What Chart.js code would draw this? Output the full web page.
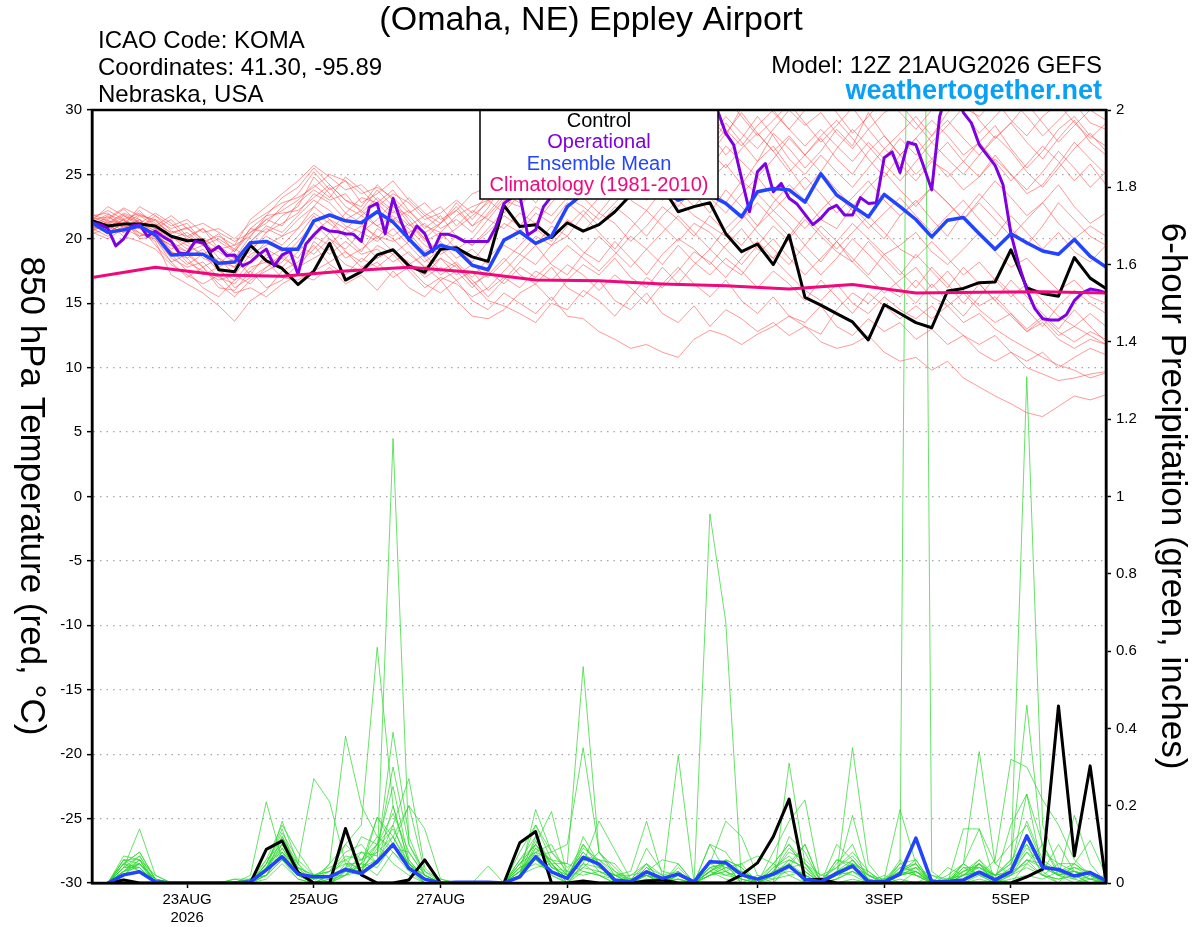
<!DOCTYPE html>
<html>
<head>
<meta charset="utf-8">
<title>KOMA GEFS 850 hPa temperature and 6-hour precipitation</title>
<script src="https://cdn.jsdelivr.net/npm/chart.js@4.4.1/dist/chart.umd.min.js"></script>
<style>
  html, body { margin: 0; padding: 0; background: #fff; }
  #wrap { width: 1200px; height: 927px; }
</style>
</head>
<body>
<div id="wrap"><canvas id="meteogram" width="1200" height="927"></canvas></div>
<script>
// ---- text ----
const stationTitle = "(Omaha, NE) Eppley Airport";
const stationInfo = ["ICAO Code: KOMA", "Coordinates: 41.30, -95.89", "Nebraska, USA"];
const modelRun = "Model: 12Z 21AUG2026 GEFS";
const siteName = "weathertogether.net";
const legendLines = ["Control", "Operational", "Ensemble Mean", "Climatology (1981-2010)"];

// ---- x axis (hours after 12Z 21AUG) ----
const dateTickHours = [36, 84, 132, 180, 252, 300, 348];
const dateTickLabels = [["23AUG", "2026"], "25AUG", "27AUG", "29AUG", "1SEP", "3SEP", "5SEP"];

// ---- 850 hPa temperature (C), 6-hourly from hour 0 ----
const controlTemp = [
  21.4, 21.0, 21.15, 21.15, 21.0, 20.2, 19.85, 19.9, 17.6, 17.45, 19.5, 18.3, 17.7,
  16.45, 17.5, 19.65, 16.8, 17.45, 18.75, 19.15, 17.9, 17.4, 19.2, 19.3, 18.6, 18.25,
  22.6, 20.95, 21.1, 20.1, 21.25, 20.6, 21.1, 22.1, 23.4, 24.5, 24.0, 22.1, 22.5,
  22.8, 20.4, 19.0, 19.6, 18.0, 20.3, 15.45, 14.85, 14.2, 13.55, 12.15, 14.9, 14.2,
  13.5, 13.1, 15.95, 16.15, 16.6, 16.65, 19.15, 16.2, 15.75, 15.55, 18.55, 16.95, 16.15
];
const meanTemp = [
  21.25, 20.5, 20.7, 21.0, 20.3, 18.75, 18.8, 18.8, 18.1, 18.2, 19.7, 19.8, 19.2,
  19.2, 21.4, 21.85, 21.4, 21.25, 22.1, 21.3, 20.0, 18.75, 19.5, 19.15, 17.95, 17.6,
  19.9, 20.55, 19.65, 20.2, 22.5, 23.5, 24.0, 24.5, 25.0, 24.5, 23.8, 23.0, 23.4,
  23.4, 22.75, 21.7, 23.65, 23.9, 23.8, 22.85, 25.05, 23.4, 22.55, 21.7, 23.45, 22.5,
  21.5, 20.15, 21.45, 21.65, 20.4, 19.2, 20.4, 19.7, 19.05, 18.8, 19.95, 18.65, 17.8
];
// operational run, 3-hourly from hour 0
const operationalTemp = [
  21.25, 21.1, 20.8, 19.45, 20.0, 21.0, 21.1, 20.2, 20.6, 20.15, 19.8, 18.9, 18.85, 19.8, 19.7, 19.0,
  19.4, 18.7, 18.75, 17.9, 18.2, 18.75, 19.2, 17.9, 18.75, 19.05, 17.25, 19.6, 20.3, 20.9, 20.6, 20.55,
  20.4, 20.35, 19.8, 22.45, 22.75, 20.4, 23.15, 21.35, 19.9, 21.0, 20.4, 19.0, 20.35, 20.35, 20.15, 19.8,
  19.8, 19.8, 19.8, 20.95, 22.75, 23.2, 23.4, 20.3, 20.7, 22.5, 23.3, 24.2, 25.0, 25.6, 26.2, 26.8,
  27.2, 27.5, 28.0, 28.4, 28.8, 29.2, 29.6, 30.2, 30.8, 31.2, 31.5, 31.8, 32.2, 31.8, 31.0, 29.9,
  28.2, 27.3, 24.7, 22.1, 25.2, 25.85, 23.65, 24.3, 23.15, 22.7, 21.9, 21.1, 21.6, 22.3, 22.6, 21.85,
  21.85, 23.2, 22.75, 22.8, 26.3, 26.75, 25.15, 27.5, 27.3, 25.6, 23.8, 29.5, 31.5, 31.5, 29.8, 29.0,
  27.3, 26.5, 25.7, 24.2, 20.4, 18.0, 16.05, 14.6, 13.8, 13.7, 13.7, 14.1, 15.2, 15.8, 16.1, 16.0,
  15.8
];
// climatology, daily from hour 0
const climoTemp = [17.0, 17.8, 17.2, 17.1, 17.5, 17.8, 17.4, 16.8, 16.75, 16.5, 16.35, 16.1, 16.45, 15.8, 15.85, 15.9, 15.8];

// ensemble members, 6-hourly from hour 0
const memberTemps = [
  [21.6, 22.2, 21.5, 22.0, 21.2, 20.5, 20.8, 20.0, 19.2, 18.5, 20.2, 21.8, 23.2,
   24.0, 25.5, 24.2, 23.0, 22.5, 24.2, 23.0, 21.5, 20.0, 21.2, 22.5, 21.0, 22.4,
   24.5, 25.8, 27.0, 26.2, 28.0, 29.2, 28.5, 30.5, 29.0, 27.8, 29.5, 31.0, 28.8,
   27.2, 29.0, 27.5, 26.0, 28.2, 27.0, 25.5, 26.8, 28.5, 27.2, 29.8, 28.0, 26.5,
   27.8, 29.2, 28.0, 26.5, 27.5, 28.8, 27.0, 25.5, 26.8, 28.5, 29.5, 28.0, 27.2],
  [21.0, 21.5, 22.3, 21.2, 20.8, 21.5, 20.2, 19.5, 20.0, 19.2, 20.8, 20.5, 21.8,
   22.5, 24.8, 23.5, 22.0, 23.2, 22.8, 21.5, 22.2, 21.0, 20.5, 21.8, 22.5, 23.0,
   22.0, 23.5, 24.8, 23.5, 25.2, 26.5, 25.8, 27.2, 28.5, 27.0, 26.2, 28.0, 29.5,
   28.2, 26.5, 27.8, 29.5, 28.0, 26.2, 25.0, 26.5, 25.2, 24.0, 25.5, 27.0, 25.8,
   24.5, 26.0, 25.2, 23.8, 24.8, 26.5, 25.0, 23.5, 24.2, 25.8, 27.5, 26.2, 25.0],
  [20.8, 20.2, 21.0, 20.5, 19.8, 17.2, 16.5, 15.8, 14.8, 13.6, 15.2, 16.0, 17.5,
   18.2, 19.5, 18.0, 17.2, 18.5, 17.8, 18.8, 17.5, 16.2, 17.0, 16.5, 15.5, 16.2,
   17.5, 18.8, 18.0, 19.5, 20.2, 19.0, 18.2, 19.8, 18.5, 17.2, 18.8, 20.0, 19.2,
   18.0, 19.5, 20.8, 19.2, 18.5, 20.0, 21.5, 20.2, 19.0, 18.2, 19.8, 18.5, 17.2,
   18.8, 17.5, 16.2, 17.8, 16.5, 15.2, 16.8, 15.5, 14.2, 13.0, 14.5, 13.2, 12.0],
  [21.2, 20.5, 21.2, 20.8, 20.2, 19.5, 18.2, 17.5, 16.8, 17.2, 16.5, 17.8, 18.5,
   17.8, 18.5, 19.2, 18.0, 17.5, 18.2, 17.0, 17.8, 16.5, 15.8, 16.8, 15.2, 14.5,
   15.8, 15.0, 14.2, 15.5, 14.0, 13.8, 12.8, 12.2, 11.5, 11.8, 11.2, 10.8, 12.2,
   12.9, 12.5, 11.8, 12.6, 13.2, 14.0, 13.2, 12.6, 14.5, 15.8, 15.0, 16.2, 15.5,
   16.8, 15.5, 14.8, 13.5, 14.2, 13.0, 12.2, 11.5, 10.8, 10.2, 9.8, 9.2, 9.6],
  [20.5, 20.0, 20.8, 21.5, 20.0, 18.5, 17.8, 18.2, 17.0, 16.5, 17.8, 18.2, 17.0,
   16.8, 17.5, 18.2, 19.0, 17.8, 18.5, 19.2, 18.0, 17.2, 18.5, 17.8, 16.5, 17.2,
   18.5, 17.2, 16.5, 17.8, 16.2, 15.5, 16.8, 15.2, 14.5, 15.8, 14.2, 13.5, 14.8,
   13.2, 14.5, 13.8, 12.8, 13.5, 12.5, 13.2, 12.0, 11.5, 11.8, 12.5, 11.2, 10.5,
   10.8, 9.8, 10.5, 9.2, 8.5, 7.8, 7.2, 6.5, 6.2, 7.0, 7.8, 7.5, 7.9],
  [21.8, 22.0, 21.0, 22.5, 21.8, 21.0, 21.5, 20.5, 20.8, 20.0, 21.2, 22.0, 22.8,
   23.2, 24.0, 25.0, 24.5, 23.5, 24.0, 23.2, 22.0, 22.8, 21.5, 22.2, 23.5, 24.0,
   25.0, 24.2, 25.5, 27.0, 26.5, 28.0, 29.5, 28.8, 30.2, 29.0, 30.5, 29.2, 28.0,
   29.8, 31.0, 29.5, 28.0, 29.2, 30.5, 29.0, 27.5, 28.8, 30.2, 28.5, 27.0, 28.2,
   29.5, 28.0, 29.8, 31.0, 29.2, 27.8, 29.0, 30.5, 29.0, 27.5, 28.8, 30.0, 29.2],
  [21.3, 21.0, 20.5, 21.8, 21.0, 20.2, 19.5, 18.8, 19.5, 18.5, 19.8, 21.0, 20.5,
   21.8, 23.0, 22.2, 21.0, 20.5, 21.5, 22.8, 21.2, 19.8, 20.5, 19.2, 20.0, 21.5,
   20.8, 22.0, 21.2, 22.8, 24.0, 23.2, 22.0, 23.5, 25.0, 24.2, 23.0, 24.5, 23.5,
   22.0, 23.8, 22.5, 21.0, 22.8, 24.2, 23.0, 21.5, 20.8, 22.5, 21.2, 20.0, 21.8,
   23.0, 21.5, 20.2, 22.0, 23.5, 22.2, 20.8, 19.5, 21.0, 22.8, 21.5, 20.2, 19.5],
  [20.9, 21.8, 20.8, 20.2, 20.5, 18.8, 17.5, 16.2, 15.5, 16.8, 17.5, 16.2, 16.8,
   18.0, 19.2, 20.5, 19.0, 18.2, 19.5, 18.8, 19.8, 18.5, 17.2, 18.0, 16.8, 15.5,
   16.8, 18.2, 19.5, 18.0, 17.2, 18.8, 20.2, 19.0, 17.8, 19.2, 20.5, 21.8, 20.5,
   19.2, 20.8, 22.0, 20.5, 19.2, 18.0, 19.5, 21.0, 19.8, 18.5, 17.2, 18.8, 17.5,
   16.2, 17.8, 16.5, 15.0, 16.5, 15.2, 14.0, 12.8, 13.5, 12.2, 11.5, 12.2, 11.8],
  [21.5, 20.8, 21.8, 21.2, 22.0, 21.2, 20.0, 20.8, 19.8, 19.0, 20.5, 21.2, 22.5,
   23.5, 25.2, 23.8, 24.5, 22.8, 23.5, 24.5, 23.0, 21.8, 22.5, 21.0, 22.2, 21.5,
   23.0, 22.5, 24.0, 25.5, 24.2, 25.8, 27.2, 26.0, 27.5, 28.8, 27.2, 26.0, 27.8,
   26.5, 28.2, 29.8, 28.2, 26.8, 28.0, 26.5, 25.2, 27.0, 28.5, 27.2, 25.8, 24.5,
   26.0, 27.5, 26.2, 25.0, 26.5, 28.0, 26.8, 25.2, 24.0, 25.5, 27.0, 28.2, 26.8],
  [21.0, 20.5, 21.2, 20.8, 20.5, 19.2, 19.8, 18.5, 18.0, 19.2, 18.5, 19.8, 19.0,
   20.2, 21.8, 20.5, 22.0, 21.2, 20.0, 21.5, 20.8, 19.5, 18.8, 19.5, 18.2, 19.8,
   21.2, 20.5, 22.0, 21.2, 22.8, 21.8, 23.2, 24.5, 23.0, 22.2, 23.8, 22.5, 24.0,
   23.2, 22.0, 23.5, 24.8, 23.2, 22.0, 20.8, 22.2, 23.5, 22.2, 20.8, 22.0, 23.2,
   21.8, 20.5, 21.8, 23.0, 21.5, 20.2, 21.8, 20.5, 19.2, 20.5, 19.0, 18.2, 19.5],
  [20.6, 21.2, 20.2, 19.8, 19.2, 18.0, 17.2, 16.5, 17.2, 15.8, 16.2, 15.5, 16.5,
   17.2, 16.8, 17.8, 16.5, 17.2, 16.0, 17.5, 16.2, 15.5, 16.8, 15.2, 14.0, 13.8,
   14.5, 15.8, 16.5, 15.2, 16.8, 18.0, 17.2, 18.5, 17.0, 16.2, 17.8, 16.5, 18.0,
   19.2, 18.0, 17.2, 18.8, 20.0, 18.5, 17.2, 18.5, 19.8, 18.2, 17.0, 15.8, 16.8,
   17.8, 16.2, 17.5, 16.0, 14.8, 15.5, 14.2, 13.0, 14.0, 12.8, 12.0, 12.8, 12.2],
  [21.4, 22.5, 21.8, 21.0, 21.5, 20.8, 21.2, 19.8, 20.2, 19.5, 21.5, 22.5, 23.5,
   24.5, 25.7, 24.8, 23.8, 24.2, 23.0, 22.0, 23.2, 22.0, 21.2, 22.8, 21.5, 23.0,
   23.8, 25.5, 26.8, 25.2, 27.0, 28.2, 29.8, 31.0, 29.5, 30.8, 29.2, 30.0, 31.2,
   29.5, 28.0, 30.2, 31.5, 29.8, 28.5, 30.0, 31.2, 29.8, 28.2, 29.5, 31.0, 29.8,
   28.5, 30.0, 31.2, 29.8, 28.2, 29.5, 30.8, 29.5, 28.0, 29.2, 30.5, 29.0, 28.5],
  [21.1, 20.6, 21.5, 20.2, 20.8, 19.8, 18.5, 19.2, 17.8, 18.5, 17.2, 18.8, 17.8,
   19.0, 20.2, 19.5, 20.8, 19.8, 18.5, 19.2, 18.0, 18.8, 17.5, 18.2, 17.0, 18.5,
   19.8, 20.8, 19.5, 21.0, 20.2, 21.8, 20.5, 19.2, 20.8, 22.2, 21.0, 19.8, 21.2,
   20.5, 19.2, 18.0, 19.5, 21.0, 19.8, 18.5, 17.2, 18.5, 20.0, 18.8, 17.5, 16.2,
   15.0, 16.5, 15.2, 14.0, 15.5, 17.0, 15.8, 14.5, 13.2, 14.8, 16.0, 15.0, 14.2],
  [21.7, 21.2, 22.0, 21.5, 20.8, 20.0, 20.5, 19.5, 19.0, 18.2, 19.0, 20.5, 21.2,
   22.0, 23.5, 22.8, 21.5, 22.2, 21.0, 21.8, 20.5, 21.2, 20.0, 20.8, 21.8, 22.8,
   24.2, 23.5, 25.0, 26.2, 25.0, 26.8, 25.5, 27.0, 26.2, 25.0, 26.8, 28.2, 27.0,
   25.5, 27.2, 26.0, 24.8, 26.2, 27.8, 26.5, 28.0, 29.2, 27.8, 26.2, 24.8, 26.5,
   27.8, 26.2, 24.8, 26.0, 27.5, 26.0, 24.5, 25.8, 27.2, 26.0, 24.5, 25.8, 24.2],
  [20.7, 21.0, 20.5, 21.0, 19.5, 18.2, 18.8, 17.8, 16.5, 15.5, 16.8, 17.5, 18.2,
   19.5, 18.8, 20.0, 18.5, 19.2, 20.2, 19.0, 18.2, 17.0, 17.8, 16.8, 17.5, 16.0,
   17.0, 16.2, 17.5, 16.8, 18.0, 17.2, 16.0, 17.2, 16.2, 15.0, 16.5, 17.8, 16.5,
   15.5, 16.8, 15.2, 14.2, 15.5, 14.0, 13.5, 14.8, 13.2, 12.5, 13.8, 12.8, 13.5,
   12.2, 13.0, 11.8, 12.5, 11.2, 10.5, 11.2, 10.0, 9.5, 9.0, 9.2, 9.5, 9.7],
  [21.2, 21.6, 22.4, 21.8, 21.5, 20.2, 19.2, 20.0, 18.5, 17.8, 19.8, 20.8, 20.2,
   21.5, 22.5, 24.0, 22.5, 21.8, 22.8, 23.8, 22.2, 20.8, 21.8, 20.2, 19.5, 20.8,
   22.2, 24.0, 22.8, 24.2, 23.0, 24.8, 26.0, 24.8, 26.2, 27.5, 26.0, 27.2, 26.0,
   24.5, 25.8, 24.2, 26.0, 27.2, 25.5, 23.8, 25.2, 23.8, 22.5, 24.0, 25.2, 23.8,
   22.5, 24.0, 22.8, 21.5, 23.0, 24.5, 23.2, 21.8, 22.8, 24.2, 22.5, 21.2, 22.0],
  [20.4, 20.8, 21.5, 20.0, 20.2, 19.0, 18.0, 18.8, 17.5, 16.8, 18.2, 19.2, 18.5,
   19.8, 21.2, 20.0, 19.2, 20.5, 19.8, 20.8, 19.5, 18.2, 19.2, 18.0, 16.5, 15.2,
   14.8, 14.2, 13.5, 15.0, 14.5, 16.0, 15.2, 14.0, 15.5, 17.0, 16.2, 17.5, 19.0,
   18.2, 17.0, 18.5, 19.8, 18.5, 17.2, 16.0, 15.2, 16.5, 15.0, 14.2, 15.5, 14.5,
   13.8, 14.8, 13.5, 12.5, 11.8, 12.5, 11.2, 10.5, 11.2, 10.0, 10.8, 11.5, 11.0],
  [21.9, 21.4, 21.2, 22.2, 21.0, 21.8, 20.8, 21.2, 20.5, 19.8, 20.5, 21.5, 22.2,
   23.0, 24.2, 23.2, 24.8, 23.8, 22.5, 23.5, 22.8, 21.5, 22.0, 23.0, 22.0, 23.5,
   24.8, 26.0, 25.2, 26.8, 28.0, 27.2, 28.5, 27.5, 29.0, 30.2, 28.8, 27.5, 29.0,
   27.8, 29.5, 28.2, 27.0, 28.5, 30.0, 28.8, 29.8, 28.2, 27.0, 28.5, 29.8, 30.5,
   29.0, 27.5, 28.8, 30.2, 29.5, 30.8, 29.2, 28.0, 29.5, 30.5, 29.0, 27.8, 29.0],
  [20.8, 21.3, 20.6, 21.5, 20.2, 19.5, 19.0, 17.8, 18.5, 17.2, 18.8, 19.5, 20.2,
   20.8, 22.0, 21.2, 20.2, 21.0, 20.2, 19.8, 20.5, 19.0, 19.8, 18.5, 19.2, 18.0,
   19.5, 18.8, 20.2, 19.5, 21.0, 22.2, 21.0, 22.5, 21.5, 20.2, 21.8, 23.0, 21.8,
   21.0, 20.2, 21.5, 22.8, 21.5, 20.2, 21.8, 20.5, 19.2, 20.5, 21.8, 20.5, 19.2,
   18.5, 19.8, 18.5, 17.2, 18.2, 16.8, 15.5, 16.5, 15.2, 14.0, 13.2, 12.5, 11.8],
  [21.3, 21.9, 21.4, 20.9, 21.8, 20.6, 20.2, 20.8, 19.2, 19.5, 20.2, 21.5, 21.0,
   22.8, 23.8, 23.0, 23.5, 22.0, 23.2, 22.2, 21.0, 21.8, 20.8, 21.5, 20.5, 22.0,
   23.5, 22.8, 24.2, 23.2, 24.8, 25.8, 24.5, 26.0, 27.2, 26.0, 27.5, 26.5, 25.2,
   26.8, 25.5, 27.0, 28.2, 26.8, 25.2, 26.5, 27.8, 26.2, 25.0, 26.8, 28.0, 26.5,
   25.0, 26.2, 27.5, 26.0, 24.8, 26.2, 25.0, 23.8, 25.2, 26.8, 25.5, 24.0, 25.2],
  [21.0, 20.6, 21.6, 20.4, 20.0, 18.2, 17.0, 17.8, 16.2, 16.0, 17.5, 18.5, 19.2,
   18.5, 20.5, 21.5, 20.2, 19.0, 20.8, 20.0, 18.8, 17.8, 18.5, 17.2, 18.0, 17.0,
   18.2, 19.5, 20.8, 19.8, 21.5, 20.5, 22.0, 21.2, 19.8, 21.0, 22.5, 21.5, 20.2,
   21.8, 20.5, 19.5, 21.0, 22.2, 21.0, 19.5, 18.2, 19.8, 21.2, 20.0, 18.8, 19.5,
   20.5, 19.0, 18.0, 19.2, 20.5, 19.0, 17.8, 18.5, 17.2, 16.0, 16.8, 15.5, 15.0],
  [21.5, 21.7, 21.1, 21.9, 21.4, 20.4, 20.9, 19.6, 20.4, 19.0, 20.8, 21.8, 22.0,
   22.2, 23.2, 24.2, 23.0, 22.2, 23.8, 22.5, 21.8, 20.5, 21.2, 22.2, 21.0, 21.8,
   23.2, 24.8, 23.8, 25.0, 26.2, 25.2, 26.5, 28.0, 27.0, 28.5, 27.8, 29.2, 28.2,
   27.0, 28.5, 27.2, 28.8, 30.0, 28.5, 27.2, 28.5, 27.2, 26.0, 27.5, 26.2, 27.8,
   26.5, 28.0, 29.2, 27.8, 26.5, 27.8, 29.0, 27.5, 26.2, 27.8, 29.2, 27.5, 26.5],
  [21.2, 21.1, 21.9, 21.3, 20.6, 19.8, 19.0, 19.5, 18.2, 17.8, 19.2, 20.2, 19.5,
   20.8, 22.5, 21.5, 20.8, 21.8, 21.0, 20.2, 21.2, 20.0, 19.0, 20.2, 19.5, 20.5,
   21.8, 21.0, 22.5, 21.8, 23.2, 22.5, 21.5, 22.8, 24.0, 23.0, 24.5, 23.8, 22.5,
   24.0, 22.8, 24.5, 23.5, 22.2, 23.5, 24.8, 23.5, 22.0, 23.2, 24.5, 23.0, 21.8,
   22.8, 24.0, 22.8, 21.5, 22.8, 21.5, 20.2, 21.5, 22.8, 21.2, 20.0, 21.0, 20.2],
  [20.7, 21.4, 20.9, 21.2, 20.6, 19.0, 18.5, 17.2, 17.8, 16.2, 17.0, 17.8, 18.8,
   17.5, 19.8, 18.8, 19.8, 18.8, 19.2, 18.2, 19.0, 17.8, 16.8, 17.5, 16.2, 17.5,
   16.5, 17.8, 17.0, 18.2, 19.5, 18.5, 17.5, 18.8, 20.2, 19.2, 18.0, 19.5, 18.2,
   17.2, 18.5, 17.5, 16.2, 17.5, 16.5, 15.2, 16.8, 15.5, 14.2, 15.8, 14.8, 13.8,
   14.8, 13.8, 14.8, 15.8, 14.5, 13.5, 14.2, 12.8, 13.8, 12.5, 13.2, 14.2, 13.2]
];

// ---- 6-hour precipitation (inches), ending at hour 6, 12, ... 384 ----
const controlPrecip = [
  0, 0.008, 0, 0, 0, 0, 0, 0, 0, 0, 0.087, 0.109, 0.028, 0, 0, 0.141,
  0.021, 0, 0, 0.008, 0.06, 0, 0, 0, 0, 0, 0.104, 0.133, 0, 0, 0.005, 0,
  0, 0, 0.005, 0.008, 0, 0, 0, 0, 0.021, 0.052, 0.12, 0.217, 0.008, 0.01, 0, 0,
  0, 0, 0, 0, 0, 0, 0, 0, 0, 0, 0.016, 0.036, 0.458, 0.07, 0.303, 0
];
const meanPrecip = [
  0, 0.021, 0.029, 0.003, 0, 0, 0, 0, 0, 0.003, 0.034, 0.068, 0.023, 0.016, 0.016, 0.035,
  0.025, 0.055, 0.1, 0.038, 0.01, 0, 0.002, 0.002, 0.002, 0, 0.016, 0.068, 0.029, 0.012, 0.066, 0.049,
  0.008, 0.003, 0.029, 0.012, 0.023, 0.003, 0.055, 0.053, 0.021, 0.01, 0.023, 0.044, 0.01, 0.003, 0.025, 0.044,
  0.003, 0.003, 0.023, 0.116, 0.003, 0.004, 0.008, 0.028, 0.008, 0.029, 0.122, 0.04, 0.035, 0.018, 0.027, 0.006
];
const memberPrecip = [
  [0, 0.03, 0.05, 0, 0, 0, 0, 0, 0, 0, 0.02, 0.08, 0.03, 0, 0, 0.05,
   0.02, 0.05, 0.15, 0.04, 0, 0, 0, 0, 0, 0, 0.03, 0.08, 0.02, 0, 0.05, 0.02,
   0, 0, 0.02, 0, 0.05, 0, 0.02, 0.05, 0, 0, 0.02, 0.05, 0, 0, 0.02, 0.04,
   0, 0, 0.05, 5.3, 0.03, 0, 0, 0.02, 0, 0.03, 0.1, 0.02, 0, 0, 0.02, 0],
  [0, 0.05, 0.08, 0.01, 0, 0, 0, 0, 0, 0, 0.05, 0.12, 0.04, 0.02, 0.03, 0.08,
   0.1, 0.05, 1.15, 0.1, 0.02, 0, 0, 0, 0, 0, 0.06, 0.1, 0.04, 0.02, 0.08, 0.03,
   0.01, 0, 0.03, 0, 0.02, 0, 0.05, 0.03, 0.01, 0, 0, 0.04, 0.02, 0, 0.01, 0.06,
   0.01, 0, 0.03, 0.02, 0, 0, 0.01, 0.05, 0, 0.02, 0.08, 0.03, 0, 0.05, 0.02, 0],
  [0, 0.06, 0.05, 0.01, 0, 0, 0, 0, 0, 0.01, 0.03, 0.16, 0.05, 0, 0, 0.03,
   0.05, 0.1, 0.25, 0.06, 0.01, 0, 0, 0, 0, 0, 0.02, 0.12, 0.05, 0.01, 0.1, 0.05,
   0, 0.01, 0.02, 0, 0.03, 0, 0.955, 0.676, 0, 0, 0.05, 0.1, 0.03, 0, 0.01, 0.03,
   0, 0.02, 0, 0.03, 0, 0.01, 0.02, 0.04, 0.01, 0, 0.05, 0.02, 0.01, 0.02, 0, 0.01],
  [0, 0.04, 0.14, 0.02, 0, 0, 0, 0, 0, 0, 0.04, 0.1, 0.02, 0, 0, 0.02,
   0.03, 0.17, 0.1, 0.2, 0.03, 0, 0, 0, 0, 0, 0.05, 0.1, 0.185, 0.02, 0.08, 0.04,
   0.02, 0, 0.05, 0, 0.01, 0, 0.03, 0.05, 0, 0.02, 0.01, 0.05, 0.02, 0, 0.02, 0.05,
   0, 0.01, 0.02, 0.04, 0, 0, 0.02, 0.06, 0.02, 0.05, 1.31, 0.15, 0.04, 0.02, 0.03, 0],
  [0, 0.07, 0.06, 0, 0, 0, 0, 0, 0.01, 0, 0.05, 0.14, 0.02, 0, 0.05, 0.1,
   0.15, 0.61, 0.2, 0.05, 0, 0, 0, 0, 0, 0, 0.04, 0.06, 0.02, 0, 0.12, 0.05,
   0, 0.02, 0.05, 0.02, 0, 0, 0.04, 0.02, 0.03, 0, 0.03, 0.05, 0.1, 0, 0.06, 0.04,
   0.02, 0, 0.04, 0.05, 0, 0.02, 0.05, 0.02, 0, 0.03, 0.05, 0.1, 0.02, 0.01, 0.03, 0],
  [0, 0.03, 0.04, 0, 0, 0, 0, 0, 0, 0, 0.02, 0.06, 0.01, 0, 0, 0.04,
   0.06, 0.1, 0.05, 0.02, 0, 0, 0, 0, 0, 0, 0.08, 0.15, 0.06, 0.05, 0.56, 0.08,
   0.03, 0, 0.01, 0, 0.02, 0, 0.03, 0.05, 0.02, 0, 0, 0.31, 0.05, 0, 0.02, 0.04,
   0.01, 0, 0.03, 0.02, 0.01, 0, 0, 0.05, 0.02, 0.06, 0.1, 0.05, 0.03, 0.02, 0, 0.01],
  [0, 0.02, 0.06, 0, 0, 0, 0, 0, 0, 0, 0.06, 0.1, 0.03, 0.01, 0.05, 0.38,
   0.2, 0.12, 0.08, 0.04, 0, 0, 0, 0, 0, 0, 0.03, 0.05, 0.03, 0, 0.05, 0.16,
   0.085, 0.01, 0.02, 0.01, 0, 0, 0.05, 0.16, 0.12, 0.02, 0, 0.05, 0, 0, 0.03, 0.02,
   0, 0, 0.02, 0.03, 0, 0, 0.05, 0.14, 0, 0.02, 0.06, 0.04, 0.02, 0, 0.01, 0.02],
  [0, 0.04, 0.07, 0, 0, 0, 0, 0, 0, 0, 0.03, 0.12, 0.05, 0.27, 0.21, 0.05,
   0.04, 0.08, 0.12, 0.05, 0.02, 0, 0, 0, 0, 0, 0.02, 0.19, 0.08, 0.03, 0.02, 0.03,
   0.02, 0.03, 0.16, 0.02, 0, 0, 0.02, 0.04, 0.05, 0, 0.02, 0.04, 0.05, 0, 0.1, 0.06,
   0.02, 0.01, 0.05, 0.02, 0, 0, 0.04, 0.02, 0.01, 0.15, 0.23, 0.03, 0.1, 0.03, 0.02, 0],
  [0, 0.05, 0.03, 0, 0, 0, 0, 0, 0, 0.02, 0.21, 0.06, 0.02, 0, 0.02, 0.06,
   0.03, 0.1, 0.15, 0.27, 0.04, 0, 0, 0, 0, 0, 0.02, 0.08, 0.1, 0.02, 0.06, 0.05,
   0, 0, 0.03, 0.06, 0.05, 0, 0.02, 0.03, 0, 0, 0.08, 0.16, 0.215, 0, 0.02, 0.35,
   0.05, 0, 0.03, 0.05, 0, 0, 0.02, 0.05, 0.01, 0.02, 0.06, 0.05, 0.02, 0.175, 0.05, 0],
  [0, 0.03, 0.05, 0.01, 0, 0, 0, 0, 0.01, 0.01, 0.02, 0.08, 0.04, 0, 0.02, 0.02,
   0.05, 0.17, 0.12, 0.2, 0.14, 0.01, 0, 0, 0, 0, 0.05, 0.1, 0.05, 0.05, 0.03, 0.02,
   0.01, 0, 0.02, 0, 0.33, 0, 0.02, 0.03, 0.05, 0.07, 0.05, 0.02, 0, 0, 0.06, 0.05,
   0.03, 0, 0.02, 0.04, 0.02, 0.01, 0.05, 0.02, 0.06, 0.32, 0.3, 0.215, 0.15, 0.06, 0.02, 0],
  [0, 0.04, 0.04, 0, 0, 0, 0, 0, 0, 0, 0.04, 0.09, 0.03, 0, 0, 0.03,
   0.02, 0.06, 0.1, 0.05, 0.01, 0, 0, 0, 0.044, 0, 0.03, 0.07, 0.08, 0.1, 0.35, 0.08,
   0.02, 0.02, 0.03, 0, 0.01, 0, 0.1, 0.08, 0.02, 0.01, 0.05, 0.1, 0.05, 0.02, 0.02, 0.175,
   0.02, 0, 0.03, 0.05, 0, 0, 0.05, 0.34, 0.05, 0.1, 0.15, 0.05, 0.03, 0.05, 0.02, 0.01],
  [0, 0.06, 0.03, 0, 0, 0, 0, 0, 0, 0, 0.02, 0.06, 0.04, 0.02, 0, 0.02,
   0.08, 0.05, 0.2, 0.05, 0.01, 0, 0, 0, 0, 0, 0.02, 0.1, 0.05, 0, 0.04, 0.08,
   0.04, 0, 0.09, 0.03, 0.02, 0, 0.1, 0.03, 0.01, 0, 0.03, 0.04, 0.1, 0, 0.05, 0.1,
   0, 0.01, 0.19, 0.05, 0, 0, 0.14, 0.14, 0.05, 0.02, 0.04, 0.02, 0.05, 0.05, 0.11, 0.02],
  [0, 0.03, 0.06, 0.02, 0, 0, 0, 0, 0, 0, 0.01, 0.05, 0.01, 0, 0.01, 0.02,
   0.05, 0.02, 0.08, 0.03, 0, 0, 0, 0, 0, 0, 0.02, 0.04, 0.05, 0, 0.03, 0.02,
   0, 0, 0.01, 0, 0, 0, 0.03, 0.01, 0, 0, 0.01, 0.02, 0.03, 0, 0, 0.01,
   0, 0, 0.01, 0, 0.02, 0, 0, 0.01, 0, 0.01, 0.02, 0.01, 0.03, 0.01, 0, 0],
  [0, 0.05, 0.08, 0.01, 0, 0, 0, 0, 0, 0.01, 0.06, 0.15, 0.08, 0.02, 0.03, 0.1,
   0.06, 0.08, 0.3, 0.1, 0.03, 0.01, 0, 0, 0, 0, 0.04, 0.15, 0.08, 0.04, 0.07, 0.06,
   0.05, 0, 0.04, 0, 0.03, 0, 0.04, 0.05, 0.02, 0, 0.03, 0.08, 0.06, 0.02, 0.04, 0.08,
   0.03, 0, 0.06, 0.02, 0, 0, 0.03, 0.04, 0.02, 0.06, 0.46, 0.08, 0.05, 0.03, 0.02, 0],
  [0, 0.02, 0.03, 0, 0, 0, 0, 0, 0, 0, 0.03, 0.1, 0.05, 0.01, 0.02, 0.04,
   0.12, 0.1, 0.18, 0.08, 0.02, 0, 0, 0, 0, 0, 0.06, 0.12, 0.04, 0.03, 0.1, 0.04,
   0.02, 0.01, 0.02, 0, 0.02, 0, 0.03, 0.06, 0.04, 0, 0.02, 0.12, 0.08, 0, 0.03, 0.06,
   0.01, 0, 0.03, 0.06, 0, 0, 0.02, 0.05, 0, 0.04, 0.23, 0.1, 0.03, 0.04, 0.02, 0],
  [0, 0.04, 0.05, 0, 0, 0, 0, 0, 0, 0, 0.05, 0.13, 0.06, 0.02, 0.04, 0.06,
   0.08, 0.07, 0.39, 0.12, 0.02, 0, 0, 0, 0, 0, 0.03, 0.09, 0.06, 0.02, 0.06, 0.06,
   0.02, 0, 0.02, 0, 0, 0, 0.02, 0.04, 0.03, 0, 0.04, 0.06, 0.04, 0, 0.02, 0.03,
   0.01, 0, 0.02, 0.03, 0, 0.04, 0.02, 0.03, 0.02, 0.03, 0.08, 0.05, 0.02, 0.03, 0.01, 0.01],
  [0, 0.02, 0.05, 0.01, 0, 0, 0, 0, 0, 0, 0.03, 0.07, 0.02, 0.01, 0.02, 0.03,
   0.04, 0.06, 0.12, 0.04, 0.01, 0, 0, 0, 0, 0, 0.04, 0.06, 0.03, 0.01, 0.04, 0.03,
   0.01, 0, 0.02, 0.01, 0.01, 0, 0.03, 0.02, 0.01, 0, 0.02, 0.03, 0.02, 0, 0.01, 0.03,
   0.01, 0, 0.02, 0.03, 0, 0.01, 0.02, 0.03, 0.01, 0.02, 0.06, 0.02, 0.01, 0.02, 0.01, 0],
  [0, 0.05, 0.04, 0, 0, 0, 0, 0, 0, 0, 0.04, 0.11, 0.04, 0, 0.01, 0.04,
   0.03, 0.09, 0.14, 0.06, 0.01, 0, 0, 0, 0, 0, 0.02, 0.09, 0.04, 0.02, 0.05, 0.04,
   0.02, 0, 0.04, 0.02, 0.03, 0, 0.06, 0.04, 0.02, 0, 0.04, 0.07, 0.03, 0, 0.03, 0.05,
   0.02, 0, 0.04, 0.03, 0.01, 0, 0.03, 0.06, 0.01, 0.04, 0.12, 0.04, 0.02, 0.03, 0.01, 0],
  [0, 0.03, 0.07, 0.01, 0, 0, 0, 0, 0, 0.01, 0.02, 0.09, 0.03, 0.01, 0.03, 0.05,
   0.05, 0.04, 0.1, 0.05, 0.02, 0, 0, 0, 0, 0, 0.03, 0.11, 0.05, 0.01, 0.07, 0.05,
   0.01, 0, 0.03, 0, 0.02, 0, 0.04, 0.05, 0.03, 0.01, 0.02, 0.06, 0.04, 0, 0.02, 0.04,
   0, 0.01, 0.03, 0.04, 0, 0, 0.04, 0.04, 0.02, 0.03, 0.09, 0.05, 0.02, 0.04, 0.03, 0.01],
  [0, 0.06, 0.06, 0, 0, 0, 0, 0, 0, 0, 0.05, 0.08, 0.02, 0, 0.02, 0.07,
   0.06, 0.12, 0.09, 0.08, 0.02, 0, 0, 0, 0, 0, 0.05, 0.08, 0.06, 0.02, 0.09, 0.06,
   0.03, 0.01, 0.05, 0, 0.04, 0, 0.03, 0.06, 0.04, 0, 0.03, 0.09, 0.05, 0.01, 0.04, 0.07,
   0.02, 0, 0.05, 0.06, 0, 0.01, 0.03, 0.05, 0.02, 0.05, 0.16, 0.06, 0.03, 0.03, 0.02, 0]
];

// ---- colours ----
const memberRed = "rgba(255, 70, 70, 0.7)";
const memberGreen = "rgba(45, 215, 45, 0.9)";
const controlColor = "#000000";
const operationalColor = "#7f00e0";
const meanColor = "#2244ff";
const climoColor = "#f0087c";
const siteColor = "#0aa0f5";
const fontFamily = '"Liberation Sans", Arial, Helvetica, sans-serif';

Chart.defaults.font.family = fontFamily;
Chart.defaults.color = "#000";

// turn a value list into {x, y} points on the hour axis
const every = (step, offset = 0) => (v, i) => ({ x: offset + i * step, y: v });

const datasets = [];

// main lines on top (lower order is drawn last)
datasets.push({ label: "Climatology", data: climoTemp.map(every(24)), yAxisID: "y",
  borderColor: climoColor, borderWidth: 3, order: 1 });
datasets.push({ label: "Ensemble Mean", data: meanTemp.map(every(6)), yAxisID: "y",
  borderColor: meanColor, borderWidth: 3.5, order: 2 });
datasets.push({ label: "Operational", data: operationalTemp.map(every(3)), yAxisID: "y",
  borderColor: operationalColor, borderWidth: 3, order: 3 });
datasets.push({ label: "Control", data: controlTemp.map(every(6)), yAxisID: "y",
  borderColor: controlColor, borderWidth: 3, order: 4 });

datasets.push({ label: "Mean precip", data: meanPrecip.map(every(6, 6)), yAxisID: "y1",
  borderColor: meanColor, borderWidth: 3.5, order: 5 });
datasets.push({ label: "Control precip", data: controlPrecip.map(every(6, 6)), yAxisID: "y1",
  borderColor: controlColor, borderWidth: 3, order: 6 });

memberPrecip.forEach((vals, m) => {
  datasets.push({ label: "Member precip " + (m + 1), data: vals.map(every(6, 6)), yAxisID: "y1",
    borderColor: memberGreen, borderWidth: 0.8, order: 7 });
});
memberTemps.forEach((vals, m) => {
  datasets.push({ label: "Member " + (m + 1), data: vals.map(every(6)), yAxisID: "y",
    borderColor: memberRed, borderWidth: 0.8, order: 8 });
});

// titles, station text, axis titles, legend box and frame
const decorations = {
  id: "decorations",
  beforeDraw(chart) {
    const c = chart.ctx;
    c.save();
    c.fillStyle = "#000";
    c.textBaseline = "alphabetic";

    c.textAlign = "center";
    c.font = "34px " + fontFamily;
    c.fillText(stationTitle, 591, 30);

    c.textAlign = "left";
    c.font = "24px " + fontFamily;
    c.fillText(stationInfo[0], 98, 48);
    c.fillText(stationInfo[1], 98, 75);
    c.fillText(stationInfo[2], 98, 102);

    c.textAlign = "right";
    c.fillText(modelRun, 1102, 73);
    c.fillStyle = siteColor;
    c.font = "bold 27px " + fontFamily;
    c.fillText(siteName, 1102, 99);

    // axis titles, both read top to bottom
    c.fillStyle = "#000";
    c.font = "35px " + fontFamily;
    c.textAlign = "center";
    c.textBaseline = "middle";
    c.save();
    c.translate(31, 496);
    c.rotate(Math.PI / 2);
    c.fillText("850 hPa Temperature (red, °C)", 0, 0);
    c.restore();
    c.save();
    c.translate(1172, 496);
    c.rotate(Math.PI / 2);
    c.fillText("6-hour Precipitation (green, inches)", 0, 0);
    c.restore();
    c.restore();
  },
  afterDatasetsDraw(chart) {
    const c = chart.ctx;
    const area = chart.chartArea;
    c.save();

    // legend box sits on the top edge of the plot
    const box = { x: 480, y: area.top, w: 238, h: 89 };
    c.fillStyle = "#fff";
    c.fillRect(box.x, box.y, box.w, box.h);
    c.strokeStyle = "#000";
    c.lineWidth = 1.5;
    c.strokeRect(box.x, box.y, box.w, box.h);
    const colors = [controlColor, operationalColor, meanColor, climoColor];
    c.font = "20px " + fontFamily;
    c.textAlign = "center";
    c.textBaseline = "middle";
    legendLines.forEach((t, i) => {
      c.fillStyle = colors[i];
      c.fillText(t, box.x + box.w / 2, box.y + 11 + i * 21.5);
    });

    // frame
    c.strokeStyle = "#000";
    c.lineWidth = 2.5;
    c.strokeRect(area.left, area.top, area.right - area.left, area.bottom - area.top);
    c.restore();
  }
};

new Chart(document.getElementById("meteogram").getContext("2d"), {
  type: "line",
  data: { datasets },
  options: {
    responsive: false,
    animation: false,
    events: [],
    layout: { padding: { top: 110, left: 0, right: 0, bottom: 0 } },
    elements: {
      point: { radius: 0 },
      line: { tension: 0, borderJoinStyle: "round" }
    },
    plugins: {
      legend: { display: false },
      tooltip: { enabled: false },
      title: { display: false }
    },
    scales: {
      x: {
        type: "linear",
        min: 0,
        max: 384,
        afterFit: (scale) => { scale.height = 44; },
        afterBuildTicks: (scale) => { scale.ticks = dateTickHours.map((h) => ({ value: h })); },
        ticks: {
          autoSkip: false,
          maxRotation: 0,
          padding: 3,
          font: { size: 15 },
          color: "#000",
          callback: (value, index) => dateTickLabels[index]
        },
        grid: { drawOnChartArea: false, drawTicks: true, tickLength: 5, tickColor: "#000", tickWidth: 1.5 },
        border: { display: true, color: "#000", width: 2.5 }
      },
      y: {
        position: "left",
        min: -30,
        max: 30,
        afterFit: (scale) => { scale.width = 92; },
        ticks: { stepSize: 5, font: { size: 15 }, color: "#000", padding: 5 },
        grid: {
          color: (ctx) => (ctx.tick && (ctx.tick.value === 30 || ctx.tick.value === -30)) ? "rgba(0,0,0,0)" : "#a8a8a8",
          lineWidth: 1.3,
          drawTicks: true,
          tickLength: 5,
          tickColor: "#000",
          tickWidth: 1.5
        },
        border: { display: true, color: "#000", width: 2.5, dash: [1.5, 5] }
      },
      y1: {
        position: "right",
        min: 0,
        max: 2,
        afterFit: (scale) => { scale.width = 94; },
        ticks: {
          stepSize: 0.2,
          font: { size: 15 },
          color: "#000",
          padding: 5,
          callback: (value) => String(Number(value.toFixed(1)))
        },
        grid: { drawOnChartArea: false, drawTicks: true, tickLength: 5, tickColor: "#000", tickWidth: 1.5 },
        border: { display: true, color: "#000", width: 2.5 }
      }
    }
  },
  plugins: [decorations]
});
</script>
</body>
</html>
